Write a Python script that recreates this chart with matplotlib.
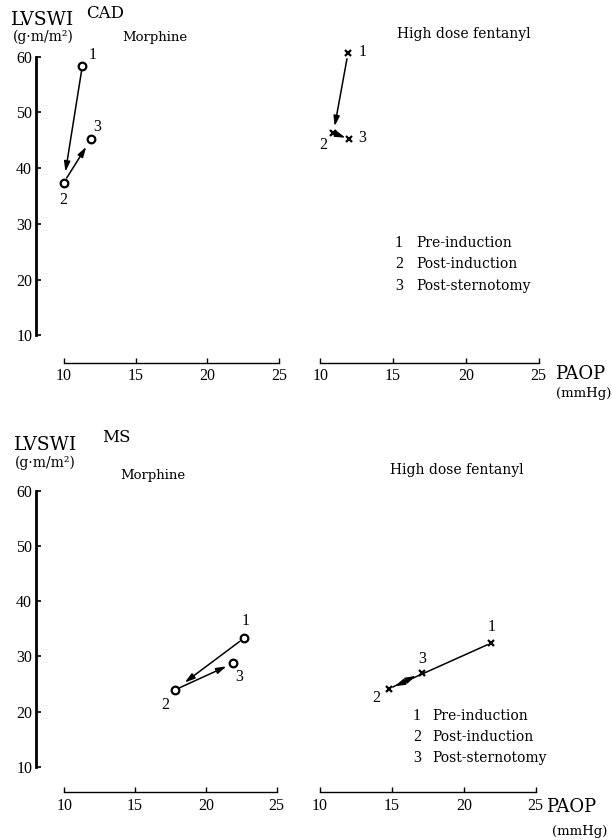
import matplotlib
matplotlib.use("Agg")
import matplotlib.pyplot as plt

# ---------------- data ----------------
stages = ["1", "2", "3"]
stage_names = ["Pre-induction", "Post-induction", "Post-sternotomy"]
x_ticks = [10, 15, 20, 25]
y_ticks = [10, 20, 30, 40, 50, 60]

cad_morphine_paop = [11.3, 10.0, 11.9]
cad_morphine_lvswi = [58.4, 37.4, 45.2]
cad_fentanyl_paop = [11.9, 10.9, 12.0]
cad_fentanyl_lvswi = [60.6, 46.3, 45.2]
ms_morphine_paop = [22.7, 17.8, 21.9]
ms_morphine_lvswi = [33.3, 23.9, 28.7]
ms_fentanyl_paop = [21.9, 14.8, 17.1]
ms_fentanyl_lvswi = [32.4, 24.1, 27.0]

# ---------------- layout ----------------
W, H = 612, 840
fig = plt.figure(figsize=(W / 100, H / 100), dpi=100)
fig.patch.set_facecolor("white")

WORD = "DejaVu Serif"
NUM = "Liberation Serif"


def make_ax(box, xpx, ypx, show_y):
    left, right, top, bottom = box
    ax = fig.add_axes([left / W, 1 - bottom / H, (right - left) / W, (bottom - top) / H])
    sx = 15.0 / (xpx[1] - xpx[0])
    ax.set_xlim(10 + (left - xpx[0]) * sx, 10 + (right - xpx[0]) * sx)
    sy = 50.0 / (ypx[0] - ypx[1])
    ax.set_ylim(10 - (bottom - ypx[0]) * sy, 10 + (ypx[0] - top) * sy)
    ax.patch.set_alpha(0)
    for s in ("top", "right"):
        ax.spines[s].set_visible(False)
    ax.spines["bottom"].set_bounds(10, 25)
    ax.spines["bottom"].set_linewidth(1.0)
    ax.set_xticks(x_ticks)
    ax.set_xticklabels([str(t) for t in x_ticks], fontfamily=NUM, fontsize=11.5)
    ax.tick_params(axis="x", direction="in", length=3.5, width=1.0, pad=4)
    if show_y:
        ax.spines["left"].set_bounds(10, 60)
        ax.spines["left"].set_linewidth(2.0)
        ax.set_yticks(y_ticks)
        ax.set_yticklabels([str(t) for t in y_ticks], fontfamily=NUM, fontsize=11.5)
        ax.tick_params(axis="y", direction="in", length=3.5, width=1.2, pad=2.5)
    else:
        ax.spines["left"].set_visible(False)
        ax.set_yticks([])
    return ax


def draw_panel(ax, xs, ys, marker, shrinks, offsets):
    (a12, b12), (a23, b23) = shrinks
    style = "-|>,head_length=0.6,head_width=0.18"
    ax.annotate("", xy=(xs[1], ys[1]), xytext=(xs[0], ys[0]),
                arrowprops=dict(arrowstyle=style, lw=1.1, color="black",
                                shrinkA=a12, shrinkB=b12, mutation_scale=10))
    ax.annotate("", xy=(xs[2], ys[2]), xytext=(xs[1], ys[1]),
                arrowprops=dict(arrowstyle=style, lw=1.1, color="black",
                                shrinkA=a23, shrinkB=b23, mutation_scale=10))
    if marker == "o":
        ax.plot(xs, ys, linestyle="none", marker="o", markersize=5.5,
                markerfacecolor="white", markeredgecolor="black",
                markeredgewidth=1.6, zorder=5, clip_on=False)
    else:
        ax.plot(xs, ys, linestyle="none", marker="x", markersize=4.5,
                color="black", markeredgewidth=1.6, zorder=5, clip_on=False)
    for lab, x, y, off in zip(stages, xs, ys, offsets):
        ax.annotate(lab, (x, y), xytext=off, textcoords="offset pixels",
                    ha="center", va="center", fontfamily=NUM, fontsize=11.5)


def ftext(x, y, s, size, family=WORD, ha="left"):
    fig.text(x / W, 1 - y / H, s, fontsize=size, fontfamily=family,
             ha=ha, va="center")


# ---------------- top (CAD) ----------------
ax_tl = make_ax((35.7, 290, 40, 362.7), (63.7, 279.3), (335.5, 56.7), True)
ax_tr = make_ax((300, 545, 40, 362.7), (320.3, 538.7), (335.5, 56.7), False)

draw_panel(ax_tl, cad_morphine_paop, cad_morphine_lvswi, "o",
           [(4, 8), (4, 6.5)], [(10, 11), (0, -17), (6, 12)])
draw_panel(ax_tr, cad_fentanyl_paop, cad_fentanyl_lvswi, "x",
           [(4, 5), (3, 3)], [(15, 1), (-10, -12), (13, 1)])

# ---------------- bottom (MS) ----------------
ax_bl = make_ax((35.7, 290, 470, 792.3), (64.3, 276.7), (766.7, 490.7), True)
ax_br = make_ax((300, 545, 470, 792.3), (320, 535.7), (766.7, 490.7), False)

draw_panel(ax_bl, ms_morphine_paop, ms_morphine_lvswi, "o",
           [(4, 9), (4, 5)], [(2, 17), (-9, -15), (6, -14)])
draw_panel(ax_br, ms_fentanyl_paop, ms_fentanyl_lvswi, "x",
           [(3, 4.5), (3, 5)], [(1, 16), (-13, -9), (0, 14)])

# ---------------- texts ----------------
ftext(11, 20, "LVSWI", 13.5)
ftext(86, 14, "CAD", 12)
ftext(13, 37, "(g·m/m²)", 10)
ftext(122, 38, "Morphine", 9.5)
ftext(397, 34, "High dose fentanyl", 10)
ftext(555, 374, "PAOP", 13)
ftext(556, 394, "(mmHg)", 9.5)

ftext(14, 445, "LVSWI", 13.5)
ftext(102, 437, "MS", 12)
ftext(15, 463, "(g·m/m²)", 10)
ftext(120, 476, "Morphine", 9.5)
ftext(390, 470, "High dose fentanyl", 10)
ftext(546, 807, "PAOP", 13)
ftext(552, 831, "(mmHg)", 9.5)

legend_top_y = [243, 264, 286]
legend_bot_y = [716, 737, 758]
for num, name, yt, yb in zip(stages, stage_names, legend_top_y, legend_bot_y):
    ftext(399, yt, num, 11.5, family=NUM, ha="center")
    ftext(416, yt, name, 10)
    ftext(417, yb, num, 11.5, family=NUM, ha="center")
    ftext(432, yb, name, 10)

fig.savefig("out.png", dpi=100, facecolor="white")
